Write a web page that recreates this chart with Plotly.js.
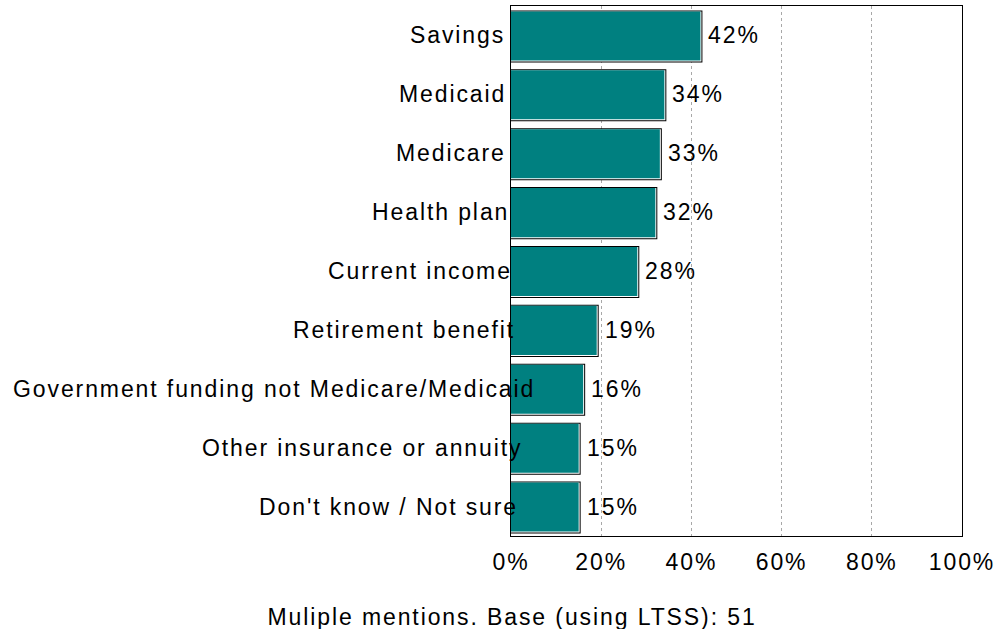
<!DOCTYPE html>
<html>
<head>
<meta charset="utf-8">
<script src="https://cdn.plot.ly/plotly-3.0.1.min.js"></script>
<style>
  html, body { margin: 0; padding: 0; background: #fff; }
  #chart { width: 1002px; height: 629px; }
  #chart text { letter-spacing: 1.9px; }
  #js-plotly-tester text { letter-spacing: 1px; }
</style>
</head>
<body>
<div id="chart"></div>
<script>
const categories = [
  "Savings",
  "Medicaid",
  "Medicare",
  "Health plan",
  "Current income",
  "Retirement benefit",
  "Government funding not Medicare/Medicaid",
  "Other insurance or annuity",
  "Don't know / Not sure"
];
const values = [42, 34, 33, 32, 28, 19, 16, 15, 15];
const tickValues = [0, 20, 40, 60, 80, 100];
const tickLabels = ["0%", "20%", "40%", "60%", "80%", "100%"];
const caption = "Muliple mentions. Base (using LTSS): 51";

const FONT = "Liberation Sans, Arial, sans-serif";
const plotW = 451, plotH = 530;
const pxX = 100 / plotW;                 // data units per pixel (x)
const pxY = categories.length / plotH;   // category units per pixel (y)
const barW = 0.85;

function layer(extraX, extraBottomPx, topInsetPx, color) {
  const w = barW + (extraBottomPx - topInsetPx) * pxY;
  return {
    type: 'bar', orientation: 'h',
    y: categories,
    x: values.map(v => v + extraX * pxX),
    width: w,
    offset: -barW / 2 + topInsetPx * pxY,
    marker: { color: color, line: { width: 0 } },
    hoverinfo: 'skip', showlegend: false
  };
}
const shadowBlack = layer(2, 2, 0, '#000000');
const innerWhite  = layer(1, 1, 1, '#ffffff');
const bars        = layer(0, 0, 1, '#008080');

const annotations = [];
categories.forEach((c, i) => {
  annotations.push({
    xref: 'paper', yref: 'y', x: -10 / plotW, y: c,
    text: c, showarrow: false, xanchor: 'right', align: 'left', yanchor: 'middle',
    font: { family: FONT, size: 23, color: '#000' }
  });
  annotations.push({
    xref: 'x', yref: 'y', x: values[i], y: c, xshift: 6,
    text: values[i] + '%', showarrow: false, xanchor: 'left', align: 'left', yanchor: 'middle',
    font: { family: FONT, size: 23, color: '#000' }
  });
});
annotations.push({
  xref: 'paper', yref: 'paper', x: 1 / plotW, y: -81 / plotH,
  text: caption, showarrow: false, xanchor: 'center', yanchor: 'middle',
  font: { family: FONT, size: 23, color: '#000' }
});

const layout = {
  width: 1002, height: 629,
  margin: { l: 511, r: 40, t: 6, b: 93, pad: 0 },
  paper_bgcolor: '#fff', plot_bgcolor: '#fff',
  barmode: 'overlay',
  showlegend: false,
  xaxis: {
    range: [0, 100], tickvals: tickValues, ticktext: tickLabels,
    showgrid: true, gridcolor: '#a8a8a8', gridwidth: 1, griddash: 'dot',
    zeroline: false, showline: true, mirror: true, linecolor: '#000', linewidth: 1,
    ticks: '', ticklabelstandoff: 5,
    tickfont: { family: FONT, size: 23, color: '#000' },
    fixedrange: true
  },
  yaxis: {
    type: 'category', autorange: 'reversed',
    showticklabels: false, showgrid: false, zeroline: false,
    showline: true, mirror: true, linecolor: '#000', linewidth: 1, ticks: '',
    fixedrange: true
  },
  annotations: annotations
};

Plotly.newPlot('chart', [shadowBlack, innerWhite, bars], layout, { staticPlot: true, displayModeBar: false });
</script>
</body>
</html>
